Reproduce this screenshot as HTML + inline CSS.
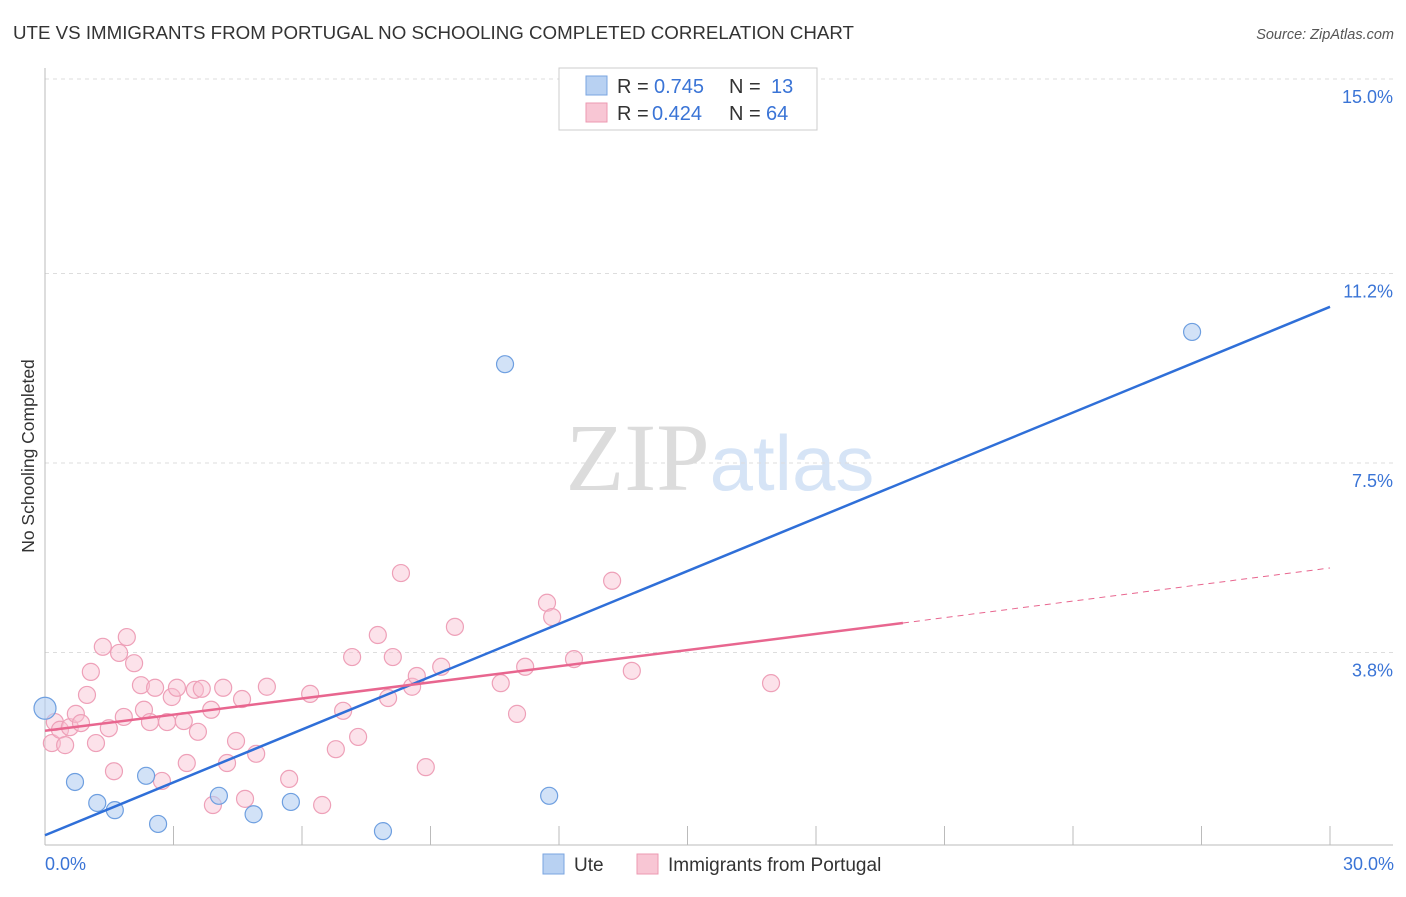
<!DOCTYPE html>
<html><head><meta charset="utf-8"><style>
body{margin:0;background:#fff;font-family:"Liberation Sans",sans-serif;}
svg text{font-family:"Liberation Sans",sans-serif;}
</style></head><body>
<svg id="chart" width="1406" height="892" viewBox="0 0 1406 892">
<text x="13" y="39" font-size="18.5" fill="#333" textLength="841" lengthAdjust="spacingAndGlyphs">UTE VS IMMIGRANTS FROM PORTUGAL NO SCHOOLING COMPLETED CORRELATION CHART</text>
<text x="1394" y="39" font-size="14.5" fill="#555" font-style="italic" text-anchor="end">Source: ZipAtlas.com</text>
<text x="720" y="490" font-size="96" text-anchor="middle" fill="#ddd"><tspan font-family="Liberation Serif" fill="#dcdcdc">ZIP</tspan><tspan fill="#d6e4f6" font-size="78">atlas</tspan></text>
<g id="grid"></g>
<line x1="45" y1="68" x2="45" y2="845" stroke="#bbb"/>
<line x1="45" y1="845" x2="1393" y2="845" stroke="#bbb"/>
<text transform="translate(34,456) rotate(-90)" font-size="17.5" fill="#333" text-anchor="middle">No Schooling Completed</text>
<text x="45" y="870" font-size="18" fill="#3a74d6">0.0%</text>
<text x="1394" y="870" font-size="18" fill="#3a74d6" text-anchor="end">30.0%</text>
<g id="marks"></g>
<g>
<rect x="559" y="68" width="258" height="62" fill="#fff" stroke="#ccc"/>
<rect x="586" y="76" width="21" height="19" fill="#b8d1f2" stroke="#7aa5e0"/>
<rect x="586" y="103" width="21" height="19" fill="#f8c6d4" stroke="#ec99b2"/>
<text x="617" y="93" font-size="20" fill="#333">R = <tspan fill="#3a74d6" x="654">0.745</tspan><tspan x="729">N = </tspan><tspan fill="#3a74d6" x="771">13</tspan></text>
<text x="617" y="120" font-size="20" fill="#333">R = <tspan fill="#3a74d6" x="652">0.424</tspan><tspan x="729">N = </tspan><tspan fill="#3a74d6" x="766">64</tspan></text>
</g>
<g><rect x="543" y="854" width="21" height="20" fill="#b8d1f2" stroke="#7aa5e0"/><text x="574" y="871" font-size="19" fill="#333">Ute</text></g>
<g><rect x="637" y="854" width="21" height="20" fill="#f8c6d4" stroke="#ec99b2"/><text x="668" y="871" font-size="19" fill="#333">Immigrants from Portugal</text></g>
</svg>
<script>
const yTicks=[3.8,7.5,11.2,15.0];
const yTickLabels=["3.8%","7.5%","11.2%","15.0%"];
const xTicks=[3,6,9,12,15,18,21,24,27,30];
const uteX=[0.0,0.7,1.22,1.63,2.36,2.64,4.06,4.87,5.74,7.89,10.74,11.77,26.78];
const uteY=[2.71,1.27,0.86,0.72,1.39,0.45,1.00,0.64,0.88,0.31,9.43,1.00,10.06];
const porX=[0.23,0.16,0.35,0.47,0.58,0.72,0.84,0.98,1.07,1.19,1.35,1.49,1.61,1.73,1.84,1.91,2.08,2.24,2.31,2.45,2.57,2.73,2.85,2.96,3.08,3.24,3.31,3.5,3.57,3.66,3.88,3.92,4.16,4.25,4.46,4.6,4.67,4.93,5.18,5.7,6.19,6.47,6.79,6.96,7.17,7.31,7.77,8.01,8.12,8.31,8.57,8.68,8.89,9.25,9.57,10.64,11.02,11.21,11.72,11.84,12.35,13.24,13.7,16.95];
const porY=[2.44,2.03,2.29,1.99,2.34,2.6,2.42,2.97,3.42,2.03,3.91,2.32,1.48,3.79,2.54,4.1,3.59,3.16,2.68,2.44,3.11,1.29,2.44,2.93,3.11,2.46,1.64,3.07,2.25,3.09,2.68,0.82,3.11,1.64,2.07,2.89,0.94,1.82,3.13,1.33,2.99,0.82,1.91,2.66,3.71,2.15,4.14,2.91,3.71,5.35,3.13,3.34,1.56,3.52,4.3,3.2,2.6,3.52,4.77,4.49,3.67,5.2,3.44,3.2];
const uteLine=[0.23,10.55];
const porLine=[2.27,4.375,5.45];
const porSolidEnd=20.03;
const X=v=>45+v/30*1285, Y=v=>847-v*51.2;
const NS='http://www.w3.org/2000/svg';
const grid=document.getElementById('grid'), marks=document.getElementById('marks');
function mk(tag,at,parent){const e=document.createElementNS(NS,tag);for(const k in at)e.setAttribute(k,at[k]);parent.appendChild(e);return e;}
yTicks.forEach((t,i)=>{
 const l=mk('line',{x1:45,x2:1393,y1:Y(t),y2:Y(t),stroke:'#ddd','stroke-dasharray':'4,4'},grid);
 
 
 const tx=mk('text',{x:1393,y:Y(t)+24,'font-size':18,fill:'#3a74d6','text-anchor':'end'},grid);
 tx.textContent=yTickLabels[i];
 
 
});
xTicks.forEach(t=>{
 const l=mk('line',{x1:X(t),x2:X(t),y1:826,y2:845,stroke:'#bbb'},grid);
 
 
});
porX.forEach((x,i)=>{
 const c=mk('circle',{cx:X(x),cy:Y(porY[i]),r:8.5,fill:'rgba(248,190,208,0.45)',stroke:'#eea0b8','stroke-width':1.2},marks);
 
 
});
uteX.forEach((x,i)=>{
 const c=mk('circle',{cx:X(x),cy:Y(uteY[i]),r:i===0?11:8.5,fill:'rgba(180,206,242,0.6)',stroke:'#6e9fe0','stroke-width':1.2},marks);
 
 
});
const bl=mk('line',{x1:X(0),y1:Y(uteLine[0]),x2:X(30),y2:Y(uteLine[1]),stroke:'#2f6fd8','stroke-width':2.5},marks);


const pl=mk('line',{x1:X(0),y1:Y(porLine[0]),x2:X(porSolidEnd),y2:Y(porLine[1]),stroke:'#e8668f','stroke-width':2.5},marks);


const pd=mk('line',{x1:X(porSolidEnd),y1:Y(porLine[1]),x2:X(30),y2:Y(porLine[2]),stroke:'#e8668f','stroke-width':1,'stroke-dasharray':'6,5'},marks);


</script>
</body></html>
